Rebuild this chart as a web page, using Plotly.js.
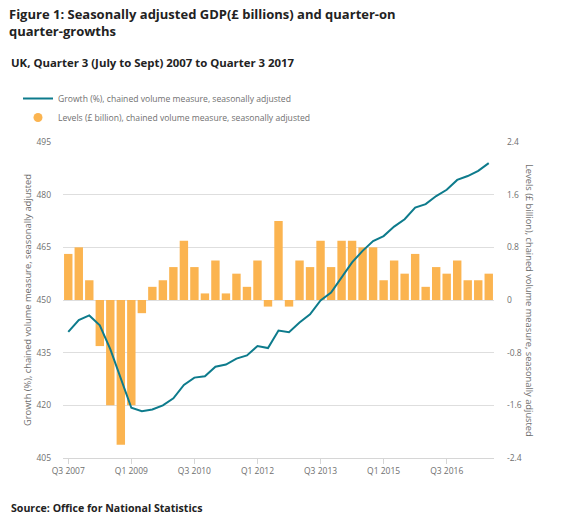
<!DOCTYPE html>
<html>
<head>
<meta charset="utf-8">
<script src="https://cdn.plot.ly/plotly-3.0.1.min.js"></script>
<style>html,body{margin:0;padding:0;background:#fff;}#chart{width:562px;height:528px;}</style>
</head>
<body>
<div id="chart"></div>
<script>
var quarters = ["Q3 2007","Q4 2007",
  "Q1 2008","Q2 2008","Q3 2008","Q4 2008",
  "Q1 2009","Q2 2009","Q3 2009","Q4 2009",
  "Q1 2010","Q2 2010","Q3 2010","Q4 2010",
  "Q1 2011","Q2 2011","Q3 2011","Q4 2011",
  "Q1 2012","Q2 2012","Q3 2012","Q4 2012",
  "Q1 2013","Q2 2013","Q3 2013","Q4 2013",
  "Q1 2014","Q2 2014","Q3 2014","Q4 2014",
  "Q1 2015","Q2 2015","Q3 2015","Q4 2015",
  "Q1 2016","Q2 2016","Q3 2016","Q4 2016",
  "Q1 2017","Q2 2017","Q3 2017"];

// quarter-on-quarter growth (%), drawn as bars on the right-hand scale
var growthBars = [0.7,0.8,0.3,-0.7,-1.6,-2.2,-1.6,-0.2,0.2,0.3,
  0.5,0.9,0.5,0.1,0.6,0.1,0.4,0.2,0.6,-0.1,
  1.2,-0.1,0.6,0.5,0.9,0.5,0.9,0.9,0.8,0.8,
  0.3,0.6,0.4,0.7,0.2,0.5,0.4,0.6,0.3,0.3,0.4];

// GDP level (£ billion), drawn as line on the left-hand scale
var levelLine = [440.9,444.3,445.6,442.8,436.0,427.4,419.3,418.3,418.8,420.0,
  422.0,425.8,427.9,428.3,431.0,431.6,433.3,434.2,436.9,436.3,
  441.3,440.8,443.6,445.9,449.9,452.1,456.4,460.7,464.0,466.8,
  468.2,470.9,473.0,476.3,477.3,479.6,481.4,484.2,485.3,486.8,489.0];

var xTickVals = ["Q3 2007","Q1 2009","Q3 2010","Q1 2012","Q3 2013","Q1 2015","Q3 2016"];
var leftTicks = [405,420,435,450,465,480,495];
var rightTicks = [-2.4,-1.6,-0.8,0,0.8,1.6,2.4];
var rightTickText = ["-2.4","-1.6","-0.8","0","0.8","1.6","2.4"];

var lineName = "Growth (%), chained volume measure, seasonally adjusted";
var barName = "Levels (£ billion), chained volume measure, seasonally adjusted";

var orange = "#fbb450";
var teal = "#0d7b8c";
var tickGrey = "#6f6f6f";
var FONT = "Open Sans, sans-serif";

var traces = [
  {
    type: "bar", x: quarters, y: growthBars, yaxis: "y",
    marker: {color: orange}, name: barName, showlegend: false,
    hoverinfo: "x+y"
  },
  {
    type: "scatter", mode: "lines", x: quarters, y: levelLine, yaxis: "y2",
    line: {color: teal, width: 2}, name: lineName, legendrank: 1
  },
  {
    type: "scatter", mode: "markers", x: [null], y: [null], yaxis: "y2",
    marker: {color: orange, size: 9, symbol: "circle"}, name: barName,
    legendrank: 2, hoverinfo: "skip"
  }
];

var layout = {
  width: 562, height: 528,
  margin: {l: 63, r: 68, t: 142, b: 70, pad: 0},
  paper_bgcolor: "#ffffff", plot_bgcolor: "#ffffff",
  font: {family: FONT, color: tickGrey, size: 8.5},
  bargap: 0.2,
  title: {
    text: "Figure 1: Seasonally adjusted GDP(£ billions) and quarter-on<br>quarter-growths",
    font: {family: FONT, size: 13, color: "#222222", weight: 700},
    xref: "container", x: 9/562, xanchor: "left",
    yref: "container", y: 1 - 19/528, yanchor: "top", pad: {t: 0, l: 0}
  },
  xaxis: {
    type: "category", range: [-0.5, 40.5],
    tickmode: "array", tickvals: xTickVals, ticktext: xTickVals,
    ticks: "outside", ticklen: 5, tickcolor: "#d6d6d6",
    showline: true, linecolor: "#d6d6d6", linewidth: 1,
    showgrid: false, zeroline: false,
    tickfont: {family: FONT, size: 8.5, color: tickGrey}
  },
  yaxis: {
    side: "right", range: [-2.4, 2.4],
    tickmode: "array", tickvals: rightTicks, ticktext: rightTickText,
    showgrid: true, gridcolor: "#dedede", gridwidth: 1,
    zeroline: false, showline: false, ticks: "",
    ticklabelstandoff: 12,
    tickfont: {family: FONT, size: 8.5, color: tickGrey}
  },
  yaxis2: {
    overlaying: "y", side: "left", range: [405, 495],
    tickmode: "array", tickvals: leftTicks,
    showgrid: false, zeroline: false, showline: false, ticks: "",
    ticklabelstandoff: 11,
    tickfont: {family: FONT, size: 8.5, color: tickGrey}
  },
  legend: {
    x: (18 - 63) / 431, xanchor: "left",
    y: (458 - 84) / 316, yanchor: "top",
    orientation: "v", bgcolor: "rgba(0,0,0,0)",
    font: {family: FONT, size: 8.6, color: "#707070"},
    itemwidth: 30, tracegroupgap: 0
  },
  annotations: [
    {
      text: "UK, Quarter 3 (July to Sept) 2007 to Quarter 3 2017",
      xref: "paper", yref: "paper", x: (9 - 63) / 431, y: (458 - 62) / 316,
      xanchor: "left", yanchor: "middle", showarrow: false,
      font: {family: FONT, size: 11.4, color: "#222222", weight: 700}
    },
    {
      text: "Source: Office for National Statistics",
      xref: "paper", yref: "paper", x: (9 - 63) / 431, y: (458 - 508) / 316,
      xanchor: "left", yanchor: "middle", showarrow: false,
      font: {family: FONT, size: 10.6, color: "#222222", weight: 700}
    },
    {
      text: lineName,
      xref: "paper", yref: "paper", x: (27 - 63) / 431, y: (458 - 300) / 316,
      xanchor: "center", yanchor: "middle", showarrow: false, textangle: -90,
      font: {family: FONT, size: 9.3, color: tickGrey}
    },
    {
      text: barName,
      xref: "paper", yref: "paper", x: (530 - 63) / 431, y: (458 - 300) / 316,
      xanchor: "center", yanchor: "middle", showarrow: false, textangle: 90,
      font: {family: FONT, size: 9.3, color: tickGrey}
    }
  ]
};

Plotly.newPlot("chart", traces, layout, {displayModeBar: false, staticPlot: true});
</script>
</body>
</html>
